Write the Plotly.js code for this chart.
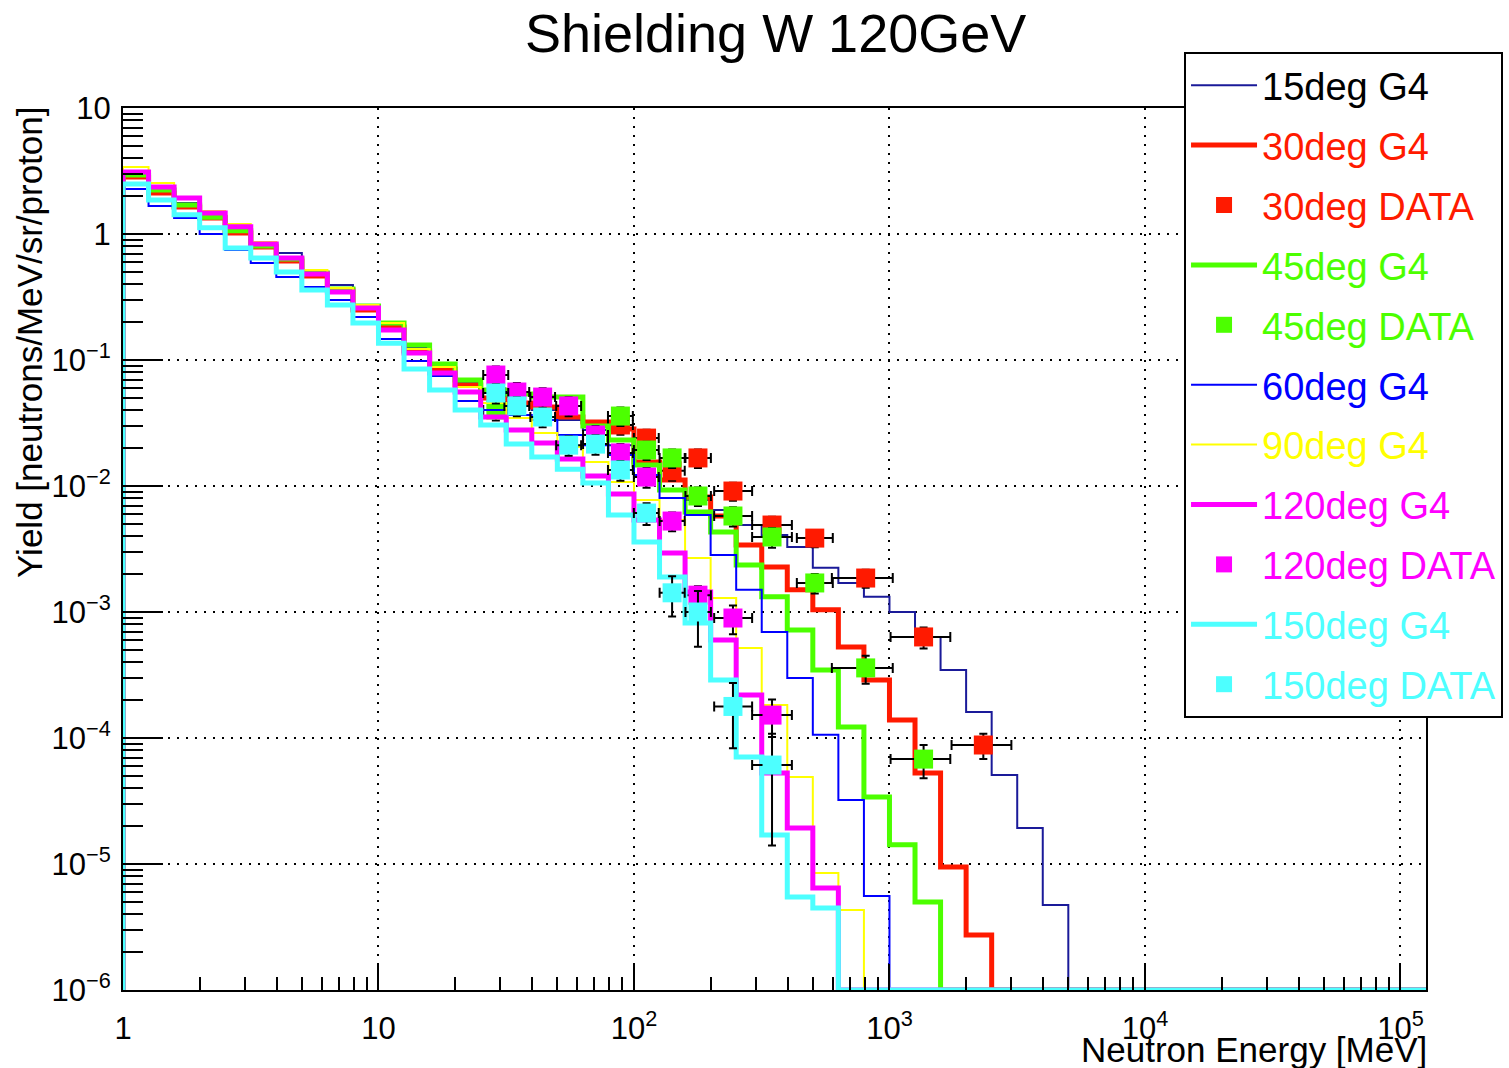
<!DOCTYPE html>
<html><head><meta charset="utf-8">
<script src="https://cdn.plot.ly/plotly-3.0.1.min.js"></script>
<style>html,body{margin:0;padding:0;background:#fff}#chart{width:1509px;height:1068px}</style>
</head><body><div id="chart"></div>
<script>
// ---- binning of the G4 histograms (10 log bins per decade, 1 MeV .. 10^5.1 MeV)
const binsPerDecade = 10;
const nBins = 51;
const edges = Array.from({length: nBins + 1}, (_, k) => Math.pow(10, k / binsPerDecade));

// ---- G4 histogram contents per bin (empty bins after the last value)
const g4_15deg  = [3.05,2.23,1.76,1.36,1.08,0.849,0.707,0.499,0.394,0.273,0.197,0.1268,0.0947,0.0669,0.0508,0.0456,0.0401,0.0334,0.0278,0.0211,0.0155,0.01116,0.00774,0.00645,0.00490,0.00408,0.00328,0.00224,0.00170,0.00132,0.00100,0.000634,0.000347,0.000161,5.08e-5,1.93e-5,4.73e-6];
const g4_30deg  = [2.83,2.12,1.64,1.34,1.02,0.789,0.611,0.464,0.360,0.249,0.183,0.118,0.0849,0.0633,0.0499,0.0456,0.0424,0.0353,0.0322,0.0283,0.0155,0.01116,0.00818,0.00578,0.00340,0.00228,0.00150,0.00104,0.000527,0.000289,0.000139,5.27e-5,9.47e-6,2.73e-6];
const g4_45deg  = [2.94,2.23,1.70,1.36,1.06,0.803,0.634,0.490,0.366,0.268,0.197,0.1315,0.0929,0.0694,0.0578,0.0537,0.0508,0.0508,0.0299,0.0232,0.0147,0.00929,0.00622,0.00431,0.00236,0.00132,0.000720,0.000347,0.000122,3.40e-5,1.42e-5,4.99e-6];
const g4_60deg  = [2.28,1.67,1.34,1.00,0.746,0.589,0.456,0.380,0.299,0.219,0.147,0.0982,0.0746,0.0473,0.0401,0.0366,0.0334,0.0254,0.0211,0.0176,0.01223,0.00803,0.00589,0.00283,0.00150,0.000694,0.000299,0.000106,3.22e-5,5.57e-6];
const g4_90deg  = [3.40,2.54,1.97,1.52,1.20,0.865,0.657,0.518,0.373,0.273,0.197,0.1223,0.0880,0.0610,0.0456,0.0347,0.0263,0.0204,0.0155,0.01076,0.00774,0.00537,0.00268,0.00129,0.000518,0.000183,4.90e-5,8.49e-6,4.31e-6];
const g4_120deg = [3.10,2.36,1.93,1.47,1.14,0.833,0.645,0.481,0.347,0.259,0.173,0.1137,0.0788,0.0557,0.0353,0.0278,0.0219,0.0164,0.0120,0.00865,0.00537,0.00294,0.00144,0.000600,0.000219,5.27e-5,1.93e-5,6.45e-6];
const g4_150deg = [2.49,1.86,1.42,1.12,0.774,0.645,0.499,0.360,0.273,0.197,0.136,0.0849,0.0578,0.0401,0.0305,0.0215,0.0170,0.0136,0.01057,0.00589,0.00360,0.00190,0.000818,0.000289,7.07e-5,1.70e-5,5.47e-6,4.48e-6];

// ---- measured data: energy bin centre and bin limits [MeV]
const dataE     = [28.8, 34.8, 43.9, 55.5, 70.7, 88.5, 112, 141, 178, 244, 347, 510, 807, 1360, 2330];
const dataElow  = [25.7, 31.1, 39.3, 49.6, 63.2, 79.1, 99.9, 126, 159, 206, 290, 434, 595, 1010, 1750];
const dataEhigh = [32.2, 38.9, 49.1, 62.1, 79.1, 99.0, 125, 158, 200, 290, 415, 600, 1030, 1730, 3000];

const data_30deg     = [null,null,null,null,null,0.0305,0.0240,0.0132,0.0167,0.00912,0.00490,0.00386,0.00186,0.000634,8.8e-5];
const data_30deg_err = [null,null,null,null,null,0.005,0.004,0.0022,0.0028,0.0015,0.0008,0.0006,0.0003,0.00012,2.0e-5];
const data_45deg     = [0.0401,null,null,null,null,0.0359,0.0193,0.0167,0.00833,0.00578,0.00394,0.00170,0.000360,6.8e-5,null];
const data_45deg_err = [0.007,null,null,null,null,0.006,0.0032,0.0028,0.0014,0.0010,0.0007,0.0003,9.0e-5,2.0e-5,null];
const data_120deg     = [0.0760,0.0557,0.0508,0.0432,0.0254,0.0183,0.01178,0.00527,0.00136,0.000896,0.000152,null,null,null,null];
const data_120deg_err = [0.013,0.010,0.009,0.0075,0.0045,0.0032,0.0021,0.0009,0.00024,0.00023,5.0e-5,null,null,null,null];
const data_150deg     = [0.0547,0.0432,0.0353,0.0211,0.0215,0.0134,0.0061,0.00142,0.0010,0.000178,6.1e-5,null,null,null,null];
const data_150deg_err = [0.0095,0.0075,0.006,0.0037,0.0038,0.0024,0.0012,0.0005,0.00047,9.5e-5,4.7e-5,null,null,null,null];

// ---- axis tick labels
const xTickVals = [1, 10, 100, 1000, 1e4, 1e5];
const xTickText = ['1', '10', '10<sup>2</sup>', '10<sup>3</sup>', '10<sup>4</sup>', '10<sup>5</sup>'];
const yTickVals = [1e-6, 1e-5, 1e-4, 1e-3, 1e-2, 1e-1, 1, 10];
const yTickText = ['10<sup>\u22126</sup>', '10<sup>\u22125</sup>', '10<sup>\u22124</sup>', '10<sup>\u22123</sup>',
                   '10<sup>\u22122</sup>', '10<sup>\u22121</sup>', '1', '10'];

const X_LOG_RANGE = [0, 5.1];
const Y_LOG_RANGE = [-6, 1];
const YMIN = Math.pow(10, Y_LOG_RANGE[0]);   // empty bins are drawn on the frame bottom, like ROOT

const COL = {
  c15: '#1a1a99', c30: '#ff1a00', c45: '#4cff00', c60: '#0000ff',
  c90: '#ffff00', c120: '#ff00ff', c150: '#4dffff'
};
const FONT = 'Liberation Sans, Arial, Helvetica, sans-serif';

function stepTrace(vals, label, labelColor, color, width) {
  const v = edges.slice(0, nBins).map((_, i) => (i < vals.length && vals[i] > 0) ? vals[i] : YMIN);
  return {
    type: 'scatter', mode: 'lines',
    x: [edges[0]].concat(edges),
    y: [YMIN].concat(v, [v[nBins - 1]]),
    line: {shape: 'hv', color: color, width: width},
    name: '<span style="color:' + labelColor + '">' + label + '</span>',
    hoverinfo: 'skip'
  };
}
function dataTrace(vals, errs, label, color) {
  const idx = vals.map((v, i) => v === null ? -1 : i).filter(i => i >= 0);
  return {
    type: 'scatter', mode: 'markers',
    x: idx.map(i => dataE[i]),
    y: idx.map(i => vals[i]),
    error_y: {type: 'data', array: idx.map(i => errs[i]), color: '#000', thickness: 2, width: 4},
    error_x: {type: 'data', symmetric: false,
              array: idx.map(i => dataEhigh[i] - dataE[i]),
              arrayminus: idx.map(i => dataE[i] - dataElow[i]),
              color: '#000', thickness: 2, width: 5},
    marker: {symbol: 'square', size: 19, color: color, line: {width: 0}},
    name: '<span style="color:' + color + '">' + label + '</span>',
    hoverinfo: 'skip'
  };
}

const traces = [
  stepTrace(g4_15deg, '15deg G4', '#000000', COL.c15, 2),
  stepTrace(g4_30deg, '30deg G4', COL.c30, COL.c30, 5),
  dataTrace(data_30deg, data_30deg_err, '30deg DATA', COL.c30),
  stepTrace(g4_45deg, '45deg G4', COL.c45, COL.c45, 5),
  dataTrace(data_45deg, data_45deg_err, '45deg DATA', COL.c45),
  stepTrace(g4_60deg, '60deg G4', COL.c60, COL.c60, 2),
  stepTrace(g4_90deg, '90deg G4', COL.c90, COL.c90, 2),
  stepTrace(g4_120deg, '120deg G4', COL.c120, COL.c120, 5),
  dataTrace(data_120deg, data_120deg_err, '120deg DATA', COL.c120),
  stepTrace(g4_150deg, '150deg G4', COL.c150, COL.c150, 5),
  dataTrace(data_150deg, data_150deg_err, '150deg DATA', COL.c150)
];
traces.forEach((t, i) => { t.legendgroup = 'g' + i; });

function minorVals(lo, hi) {
  const out = [];
  for (let d = lo; d < hi; d++) for (let m = 2; m <= 9; m++) out.push(m * Math.pow(10, d));
  return out;
}

const GRID_DASH = '2px,7px';
const layout = {
  width: 1509, height: 1068,
  margin: {l: 123, r: 83, t: 108, b: 78, autoexpand: false},
  paper_bgcolor: '#fff', plot_bgcolor: '#fff',
  font: {family: FONT, color: '#000'},
  title: {text: 'Shielding W 120GeV', font: {family: FONT, size: 54, color: '#000'},
          x: 0.514, xref: 'container', xanchor: 'center', y: 0.969, yref: 'container', yanchor: 'middle'},
  showlegend: true,
  legend: {x: 0.8143, y: 1.0635, xanchor: 'left', yanchor: 'top', maxheight: 900,
           bgcolor: '#fff', bordercolor: '#000', borderwidth: 2,
           font: {family: FONT, size: 38}, tracegroupgap: 7.5, itemwidth: 66, traceorder: 'grouped'},
  xaxis: {type: 'log', range: X_LOG_RANGE, tickmode: 'array', tickvals: xTickVals, ticktext: xTickText,
          ticks: 'inside', ticklen: 26, tickwidth: 2, tickcolor: '#000', ticklabelstandoff: 10,
          tickfont: {family: FONT, size: 31},
          showgrid: true, gridcolor: '#000', griddash: GRID_DASH, gridwidth: 2,
          showline: true, linecolor: '#000', linewidth: 2, mirror: true, zeroline: false,
          minor: {tickmode: 'array', tickvals: minorVals(0, 5), ticks: 'inside', ticklen: 13, tickwidth: 2, tickcolor: '#000', showgrid: false}},
  yaxis: {type: 'log', range: Y_LOG_RANGE, tickmode: 'array', tickvals: yTickVals, ticktext: yTickText,
          ticks: 'inside', ticklen: 40, tickwidth: 2, tickcolor: '#000', ticklabelstandoff: 4,
          tickfont: {family: FONT, size: 31},
          showgrid: true, gridcolor: '#000', griddash: GRID_DASH, gridwidth: 2,
          showline: true, linecolor: '#000', linewidth: 2, mirror: true, zeroline: false,
          minor: {tickmode: 'array', tickvals: minorVals(-6, 1), ticks: 'inside', ticklen: 20, tickwidth: 2, tickcolor: '#000', showgrid: false}},
  annotations: [
    {text: 'Neutron Energy [MeV]', xref: 'paper', yref: 'paper', x: 1.002, y: -0.068,
     xanchor: 'right', yanchor: 'middle', showarrow: false, font: {family: FONT, size: 35, color: '#000'}},
    {text: 'Yield [neutrons/MeV/sr/proton]', xref: 'paper', yref: 'paper', x: -0.0714, y: 1.004,
     xanchor: 'center', yanchor: 'top', textangle: -90, showarrow: false, font: {family: FONT, size: 35, color: '#000'}}
  ]
};

Plotly.newPlot('chart', traces, layout, {staticPlot: true, displayModeBar: false});
</script>
</body></html>
